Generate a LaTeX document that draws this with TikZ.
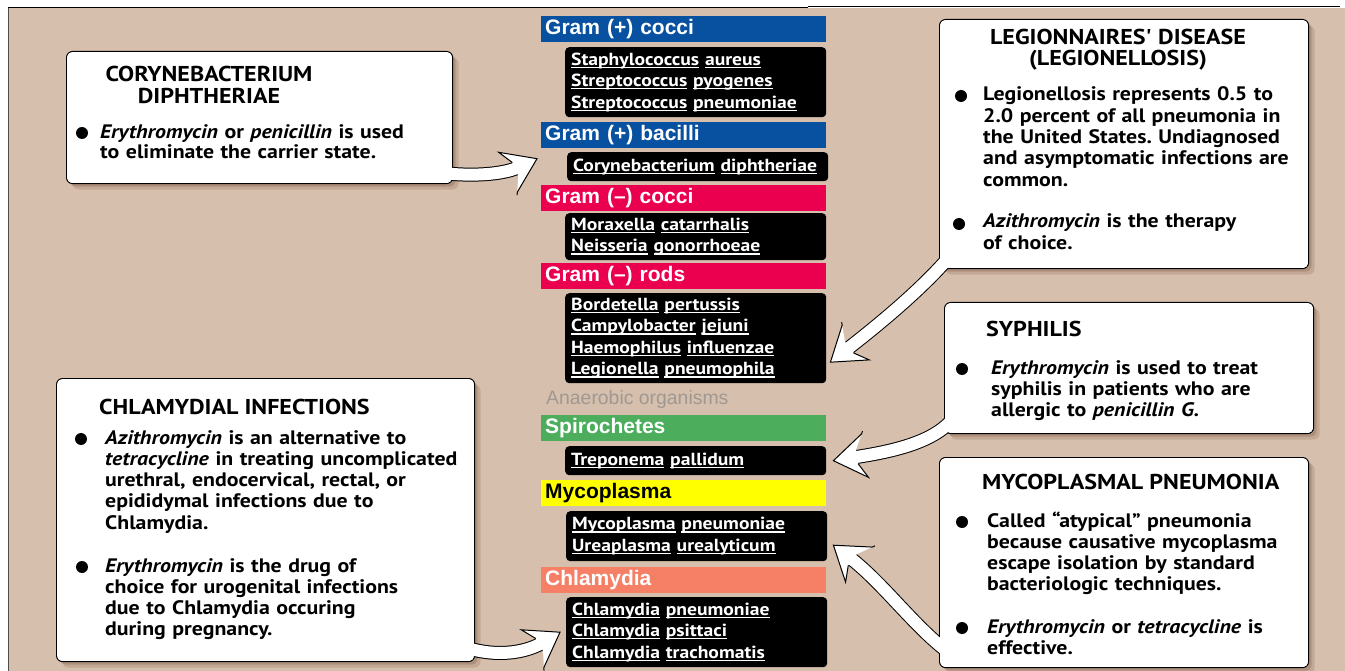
\documentclass[tikz,border=0pt]{standalone}
\usepackage{fontspec}
\setmainfont{PT Sans}[FakeStretch=1.12]
\newfontfamily\headfont{Liberation Sans}
\usetikzlibrary{calc,shadows,decorations.markings}
\frenchspacing

\definecolor{paneltan}{RGB}{214,191,172}
\definecolor{shadowbrown}{RGB}{110,72,50}
\definecolor{gposblue}{RGB}{8,80,160}
\definecolor{gnegred}{RGB}{234,0,78}
\definecolor{spirogreen}{RGB}{76,174,92}
\definecolor{mycoyellow}{RGB}{255,255,0}
\definecolor{chlasalmon}{RGB}{246,128,102}
\definecolor{anaerogray}{RGB}{160,152,146}

% genus and species are underlined word by word
\newcommand\ulword[1]{\leavevmode\setbox0=\hbox{#1}\rlap{\rule[-2.8pt]{\wd0}{1.2pt}}\box0\relax}

\tikzset{
  callout/.style={draw=black, line width=1.1pt, fill=white, rounded corners=6pt, anchor=north west,
    drop shadow={shadow xshift=6pt, shadow yshift=-6pt, opacity=.18, fill=shadowbrown},
    drop shadow={shadow xshift=3pt, shadow yshift=-3pt, opacity=.25, fill=shadowbrown}},
  grouphead/.style={anchor=north west, minimum height=25.5pt, text width=277pt, inner xsep=4pt,
    inner ysep=0pt, text=white, font=\headfont\bfseries\fontsize{21}{24}\selectfont},
  orgbox/.style={anchor=north west, fill=black, rounded corners=4pt, text=white, text width=249pt,
    inner xsep=6pt, inner ysep=0pt, font=\bfseries\fontsize{17.5}{21.5}\selectfont},
  ctitle/.style={anchor=base west, align=left, inner sep=0pt, font=\bfseries\fontsize{21.5}{21.5}\selectfont},
  ctext/.style={anchor=base west, align=left, text width=400pt, inner sep=0pt,
    font=\bfseries\fontsize{19.5}{21.3}\selectfont},
  bullet/.style={circle, fill=black, inner sep=0pt, minimum size=12pt},
  pointer/.style={draw=black, line width=1pt, double=white, double distance=12pt, shorten >=20pt,
    postaction={decorate, decoration={markings, mark=at position 0.9999 with {
      \fill[white] (0pt,0pt) -- (-32pt,22pt) -- (-24pt,7pt) -- (-24pt,-7pt) -- (-32pt,-22pt) -- cycle;
      \draw[black, line width=1pt, line join=miter] (-24pt,7pt) -- (-32pt,22pt) -- (0pt,0pt)
        -- (-32pt,-22pt) -- (-24pt,-7pt);}}}}
}

\begin{document}
\begin{tikzpicture}[x=1pt,y=-1pt]
\useasboundingbox (0,0) rectangle (1345,671);
\fill[white] (0,0) rectangle (1345,671);
\fill[paneltan] (8,8) rectangle (1345,671);
\draw[black!70, line width=0.9pt] (8,671) -- (8,8);
\draw[black, line width=0.8pt] (8,7.5) -- (808,7.5);
\draw[black, line width=1.6pt] (808,6.5) -- (1340,6.5);

% middle column: groups of organisms
\node[grouphead, fill=gposblue] (gpc) at (541,16) {Gram (+) cocci};
\node[orgbox, minimum height=70pt] (gpcbox) at (565,47)
  {\ulword{Staphylococcus} \ulword{aureus}\\ \ulword{Streptococcus} \ulword{pyogenes}\\
   \ulword{Streptococcus} \ulword{pneumoniae}};
\node[grouphead, fill=gposblue] (gpb) at (541,122) {Gram (+) bacilli};
\node[orgbox, minimum height=29pt] (gpbbox) at (567,152)
  {\ulword{Corynebacterium} \ulword{diphtheriae}};
\node[grouphead, fill=gnegred] (gnc) at (541,185) {Gram (–) cocci};
\node[orgbox, minimum height=47pt] (gncbox) at (565,213)
  {\ulword{Moraxella} \ulword{catarrhalis}\\ \ulword{Neisseria} \ulword{gonorrhoeae}};
\node[grouphead, fill=gnegred] (gnr) at (541,263) {Gram (–) rods};
\node[orgbox, minimum height=90pt] (gnrbox) at (565,293)
  {\ulword{Bordetella} \ulword{pertussis}\\ \ulword{Campylobacter} \ulword{jejuni}\\
   \ulword{Haemophilus} \ulword{influenzae}\\ \ulword{Legionella} \ulword{pneumophila}};
\node[anchor=west, inner sep=0pt, text=anaerogray, font=\headfont\fontsize{19.4}{22}\selectfont]
  (anaer) at (546,399) {Anaerobic organisms};
\node[grouphead, fill=spirogreen] (spi) at (541,415) {Spirochetes};
\node[orgbox, minimum height=29pt] (spibox) at (565,446)
  {\ulword{Treponema} \ulword{pallidum}};
\node[grouphead, fill=mycoyellow, text=black] (myp) at (541,480) {Mycoplasma};
\node[orgbox, minimum height=50pt] (mypbox) at (566,511)
  {\ulword{Mycoplasma} \ulword{pneumoniae}\\ \ulword{Ureaplasma} \ulword{urealyticum}};
\node[grouphead, fill=chlasalmon] (chm) at (541,567) {Chlamydia};
\node[orgbox, minimum height=70pt] (chmbox) at (566,597)
  {\ulword{Chlamydia} \ulword{pneumoniae}\\ \ulword{Chlamydia} \ulword{psittaci}\\
   \ulword{Chlamydia} \ulword{trachomatis}};

% callouts
\node[callout, minimum width=386pt, minimum height=132pt] (cor) at (66,51) {};
\node[callout, minimum width=369pt, minimum height=249pt] (leg) at (939,19) {};
\node[callout, minimum width=369pt, minimum height=131pt] (syph) at (944,302) {};
\node[callout, minimum width=369pt, minimum height=210pt] (myc) at (939,457) {};
\node[callout, minimum width=418pt, minimum height=283pt] (chl) at (56,378) {};

% pointers from callouts to organisms
\coordinate (corout) at ($(cor.south east)+(-10,-11)$);
\coordinate (cortip) at ($(gpbbox.west)+(-30,-8)$);
\draw[pointer] (corout) .. controls +(38,4) and +(-30,14) .. (cortip);
\coordinate (legout) at ($(leg.south west)+(11,-13)$);
\coordinate (legtip) at ($(gnrbox.east)+(4,24)$);
\draw[pointer] (legout) .. controls +(-30,35) and +(45,-35) .. (legtip);
\coordinate (syphout) at ($(syph.south west)+(12,-20)$);
\coordinate (syphtip) at ($(spibox.east)+(7,0)$);
\draw[pointer] (syphout) .. controls +(-18,30) and +(50,-8) .. (syphtip);
\coordinate (mycout) at ($(myc.south west)+(12,-14)$);
\coordinate (myctip) at ($(mypbox.east)+(6,9)$);
\draw[pointer] (mycout) .. controls +(-35,-25) and +(50,38) .. (myctip);
\coordinate (chlout) at ($(chl.south east)+(-11,-15)$);
\coordinate (chltip) at ($(chmbox.west)+(-6,0)$);
\draw[pointer] (chlout) .. controls +(38,12) and +(-30,18) .. (chltip);

% close the callouts over the pointer roots
\foreach \c in {cor,leg,syph,myc,chl}
  \fill[white, rounded corners=5pt] ($(\c.south west)+(1.2pt,1.2pt)$) rectangle ($(\c.north east)-(1.2pt,1.2pt)$);

% callout texts
\node[ctitle, text width=330pt, align=center, anchor=base] (cortitle) at (209,82)
  {CORYNEBACTERIUM\\DIPHTHERIAE};
\node[bullet] (corb) at (82,133) {};
\node[ctext, font=\bfseries\fontsize{19.5}{20}\selectfont] (cortext) at (100,139)
  {\textit{Erythromycin} or \textit{penicillin} is used\\ to eliminate the carrier state.};

\node[ctitle, text width=360pt, align=center, anchor=base, font=\bfseries\fontsize{21.5}{21}\selectfont]
  (legtitle) at (1118,45) {LEGIONNAIRES\textquotesingle\ DISEASE\\(LEGIONELLOSIS)};
\node[bullet] (legb1) at (961,96) {};
\node[ctext] (legtext1) at (983,101)
  {Legionellosis represents 0.5 to\\ 2.0 percent of all pneumonia in\\ the United States. Undiagnosed\\
   and asymptomatic infections are\\ common.};
\node[bullet] (legb2) at (959,224) {};
\node[ctext] (legtext2) at (983,228) {\textit{Azithromycin} is the therapy\\ of choice.};

\node[ctitle] (syphtitle) at (986,336) {SYPHILIS};
\node[bullet] (syphb) at (962,369) {};
\node[ctext] (syphtext) at (991,374)
  {\textit{Erythromycin} is used to treat\\ syphilis in patients who are\\ allergic to \textit{penicillin G.}};

\node[ctitle] (myctitle) at (982,489) {MYCOPLASMAL PNEUMONIA};
\node[bullet] (mycb1) at (962,522) {};
\node[ctext] (myctext1) at (987,527)
  {Called “atypical” pneumonia\\ because causative mycoplasma\\ escape isolation by standard\\
   bacteriologic techniques.};
\node[bullet] (mycb2) at (962,628) {};
\node[ctext] (myctext2) at (987,633) {\textit{Erythromycin} or \textit{tetracycline} is\\ effective.};

\node[ctitle] (chltitle) at (99,414) {CHLAMYDIAL INFECTIONS};
\node[bullet] (chlb1) at (81,439) {};
\node[ctext] (chltext1) at (105,444)
  {\textit{Azithromycin} is an alternative to\\ \textit{tetracycline} in treating uncomplicated\\
   urethral, endocervical, rectal, or\\ epididymal infections due to\\ Chlamydia.};
\node[bullet] (chlb2) at (82,567) {};
\node[ctext] (chltext2) at (105,572)
  {\textit{Erythromycin} is the drug of\\ choice for urogenital infections\\ due to Chlamydia occuring\\
   during pregnancy.};
\end{tikzpicture}
\end{document}
